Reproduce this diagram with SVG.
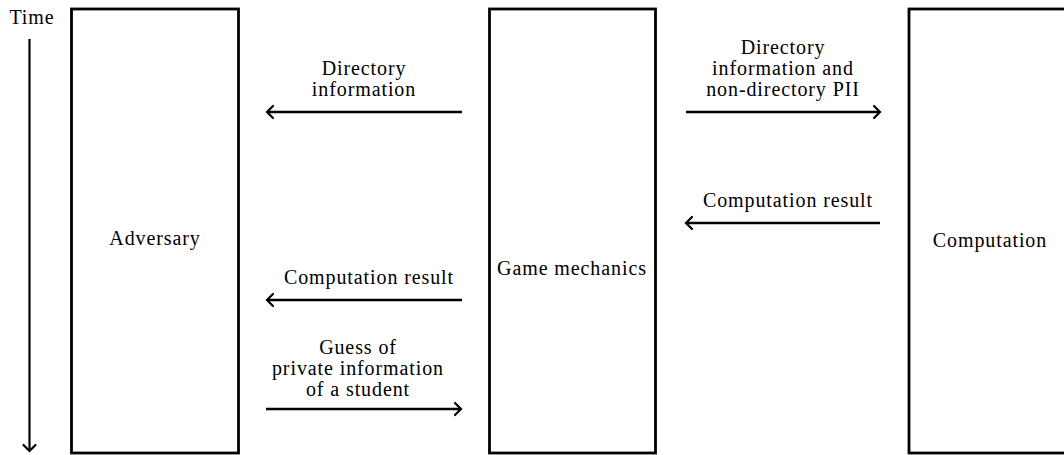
<svg xmlns="http://www.w3.org/2000/svg" width="1064" height="455" viewBox="0 0 1064 455">
<style>
text{font-family:"Liberation Serif","DejaVu Serif","Times New Roman",serif;font-size:20px;letter-spacing:0.9px;fill:#000;text-anchor:middle}
.box{fill:#fff;stroke:#000;stroke-width:2.8}
.arr{stroke:#000;stroke-width:2.5;fill:none;marker-end:url(#head)}
.time{stroke:#000;stroke-width:2.2;fill:none;marker-end:url(#head)}
</style>
<defs>
<marker id="head" markerUnits="userSpaceOnUse" viewBox="-10 -8 12 16" markerWidth="12" markerHeight="16" refX="0" refY="0" orient="auto" overflow="visible">
<path d="M-6,-6 Q-1.5,-1.5 0,0 Q-1.5,1.5 -6,6" stroke="#000" stroke-width="2.2" fill="none" stroke-linecap="round"/>
</marker>
</defs>
<g id="time">
<text x="32" y="24">Time</text>
<line class="time" x1="29.5" y1="39" x2="29.5" y2="451"/>
</g>
<g id="adversary">
<rect class="box" x="71.5" y="9" width="167" height="444"/>
<text x="155" y="245">Adversary</text>
</g>
<g id="game-mechanics">
<rect class="box" x="489.5" y="9" width="166" height="444"/>
<text x="572" y="275">Game mechanics</text>
</g>
<g id="computation">
<rect class="box" x="909" y="9" width="170" height="444"/>
<text x="990" y="247">Computation</text>
</g>
<g id="connectors">
<line class="arr" x1="462" y1="112" x2="267" y2="112"/>
<line class="arr" x1="686" y1="112" x2="880" y2="112"/>
<line class="arr" x1="880" y1="223" x2="686" y2="223"/>
<line class="arr" x1="462" y1="300" x2="267" y2="300"/>
<line class="arr" x1="266" y1="409" x2="461" y2="409"/>
</g>
<g id="labels">
<text x="364" y="75">Directory</text>
<text x="364" y="96">information</text>
<text x="783" y="54">Directory</text>
<text x="783" y="75">information and</text>
<text x="783" y="96">non-directory PII</text>
<text x="788" y="207">Computation result</text>
<text x="369" y="284">Computation result</text>
<text x="358" y="354">Guess of</text>
<text x="358" y="375">private information</text>
<text x="358" y="396">of a student</text>
</g>
</svg>
